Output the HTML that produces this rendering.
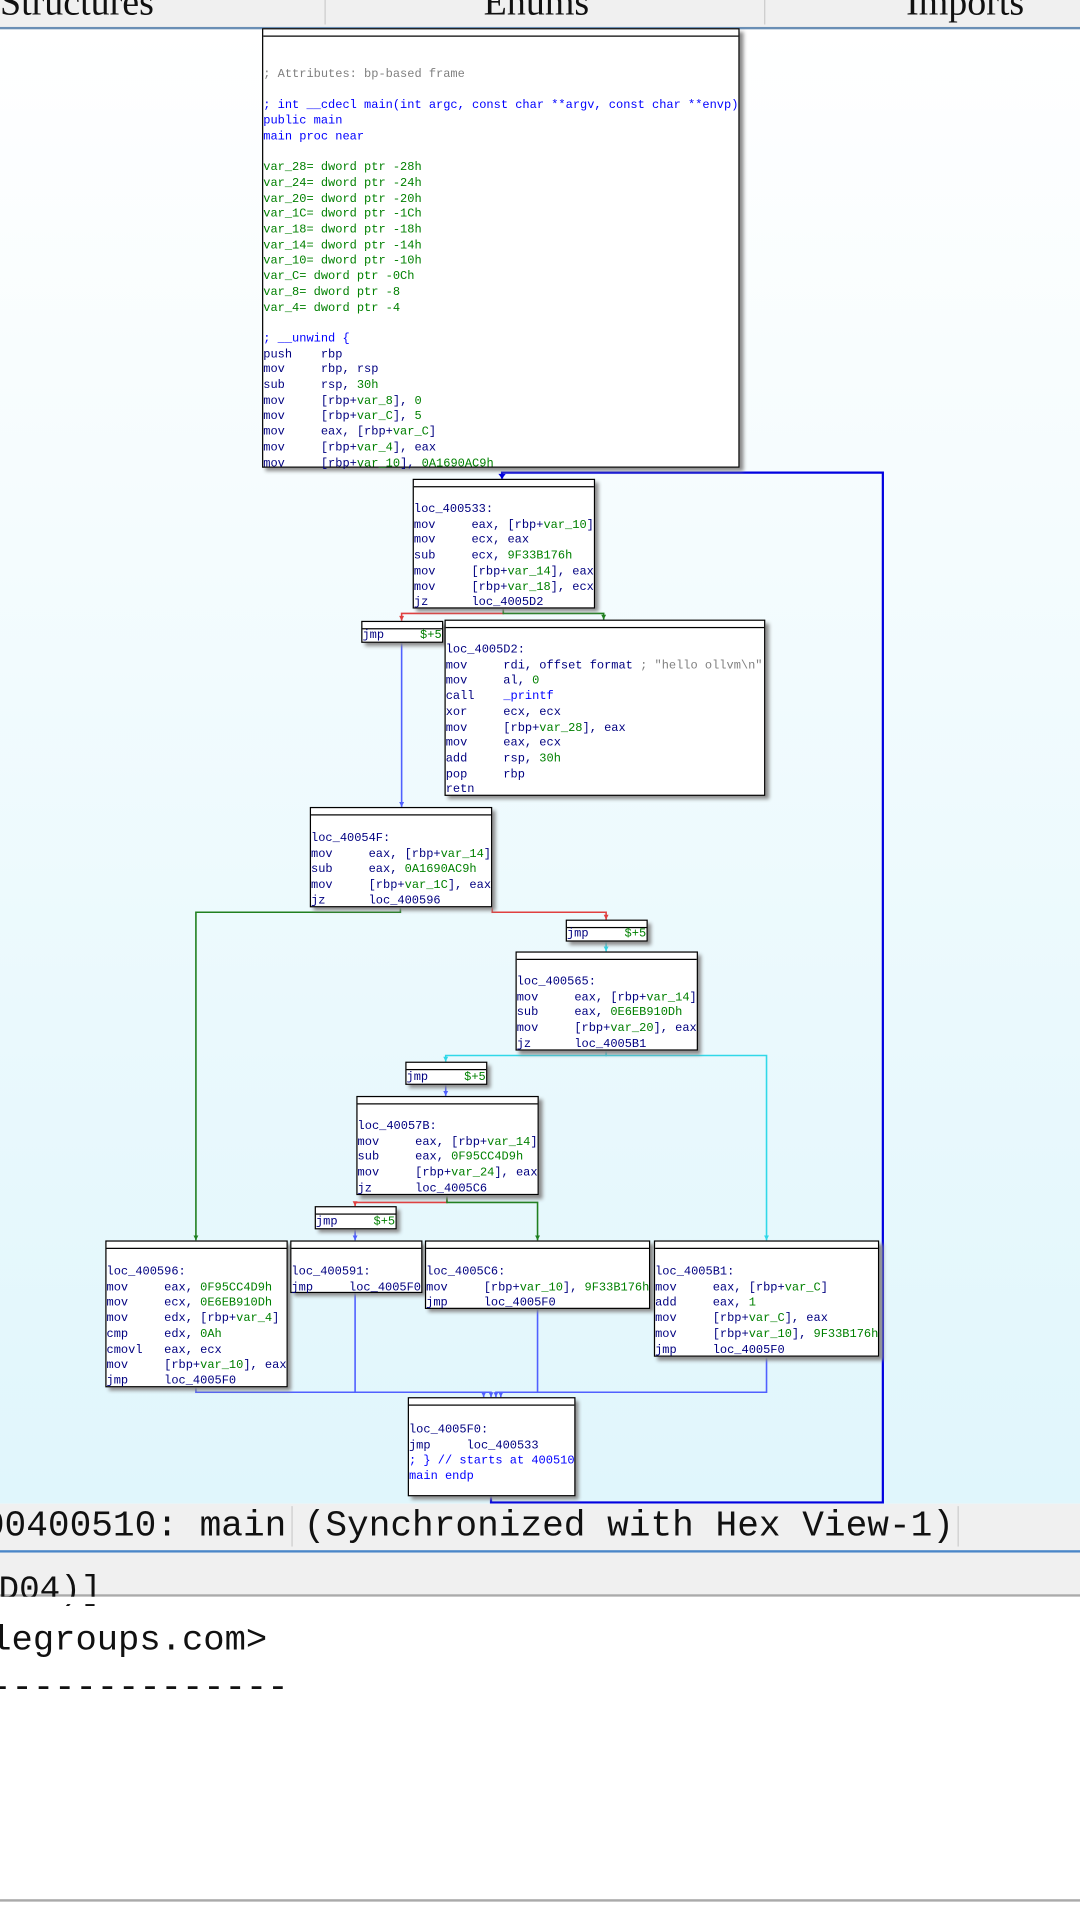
<!DOCTYPE html>
<html><head><meta charset="utf-8"><style>
html,body{margin:0;padding:0;width:1080px;height:1920px;overflow:hidden;background:#fff}
#w{position:absolute;left:0;top:0;width:882px;height:1568px;transform:scale(1.22449);transform-origin:0 0;overflow:hidden}
.tab{position:absolute;top:0;left:0;width:882px;height:22px;background:#f0f0f0;border-bottom:2px solid #6a8fb5;overflow:hidden}
.tt{position:absolute;top:-16px;font:31px "Liberation Serif",serif;color:#111}
#g{position:absolute;left:0;top:24px;width:882px;height:1204px;background:linear-gradient(#fff,#e0f6fc)}
.n{position:absolute;background:#fff;border:1px solid #000;box-shadow:3px 3px 3px #8a8a8a;box-sizing:border-box}
.n:before{content:"";position:absolute;left:0;right:0;top:5px;border-top:1px solid #000}
.t{position:absolute;left:0;white-space:pre;font:9.8px/12.7px "Liberation Mono",monospace;color:#000080}
.g{color:#008000}.b{color:#0000ff}.gr{color:#808080}
svg{position:absolute;left:0;top:0}
.sb{position:absolute;left:0;top:1228px;width:882px;height:38px;background:#f0f0f0;border-bottom:2px solid #4a86c8}
.sbt{position:absolute;top:1px;left:-14px;white-space:pre;font:29.5px "Liberation Mono",monospace;color:#111}
.bt{position:absolute;white-space:pre;font:28px "Liberation Mono",monospace;color:#111}
</style></head><body><div id="w">
<div class="tab">
<div class="tt" style="left:0">Structures</div>
<div class="tt" style="left:395px">Enums</div>
<div class="tt" style="left:740px">Imports</div>
<div style="position:absolute;left:265px;top:0;height:20px;border-left:1px solid #ccc"></div>
<div style="position:absolute;left:624px;top:0;height:20px;border-left:1px solid #ccc"></div>
</div>
<div id="g"></div>
<svg width="882" height="1568" fill="none" stroke-width="1.3">
<g stroke="#0000e0" stroke-width="1.8"><polyline points="401,1222 401,1227 721,1227 721,386 410,386 410,391"/></g>
<g stroke="#e04040"><polyline points="411,497 411,501 328,501 328,507"/><polyline points="402,741 402,745 495,745 495,751"/><polyline points="365,976 365,982 290,982 290,985"/></g>
<g stroke="#208020"><polyline points="411,497 411,501 493,501 493,506"/><polyline points="327,741 327,745 160,745 160,1013"/><polyline points="365,976 365,982 439,982 439,1013"/></g>
<g stroke="#30d8e8"><polyline points="495,769 495,777"/><polyline points="495,858 495,862 626,862 626,1013"/><polyline points="495,858 495,862 364,862 364,867"/></g>
<g stroke="#5060ff"><polyline points="328,524 328,659"/><polyline points="364,886 364,895"/><polyline points="290,1004 290,1013"/>
<polyline points="160,1133 160,1137 395,1137 395,1141"/><polyline points="290,1056 290,1137 401,1137 401,1141"/><polyline points="439,1069 439,1137 405,1137 405,1141"/><polyline points="626,1108 626,1137 409,1137 409,1141"/></g>
<g stroke="none">
<path fill="#0000e0" d="M407,387 413,387 410,391z"/>
<path fill="#e04040" d="M326,503 330,503 328,507z M493,747 497,747 495,751z M288,981 292,981 290,985z"/>
<path fill="#208020" d="M491,502 495,502 493,506z M158,1009 162,1009 160,1013z M437,1009 441,1009 439,1013z"/>
<path fill="#30d8e8" d="M493,773 497,773 495,777z M624,1009 628,1009 626,1013z M362,863 366,863 364,867z"/>
<path fill="#5060ff" d="M326,655 330,655 328,659z M362,891 366,891 364,895z M288,1009 292,1009 290,1013z M393,1137 397,1137 395,1141z M399,1137 403,1137 401,1141z M403,1137 407,1137 405,1141z M407,1137 411,1137 409,1141z"/>
</g>
</svg>
<div class="n" style="left:214px;top:23px;width:390px;height:359px"><div class="t" style="top:31px"><span class="gr">; Attributes: bp-based frame</span>

<span class="b">; int __cdecl main(int argc, const char **argv, const char **envp)</span>
<span class="b">public main</span>
<span class="b">main proc near</span>

<span class="g">var_28= dword ptr -28h</span>
<span class="g">var_24= dword ptr -24h</span>
<span class="g">var_20= dword ptr -20h</span>
<span class="g">var_1C= dword ptr -1Ch</span>
<span class="g">var_18= dword ptr -18h</span>
<span class="g">var_14= dword ptr -14h</span>
<span class="g">var_10= dword ptr -10h</span>
<span class="g">var_C= dword ptr -0Ch</span>
<span class="g">var_8= dword ptr -8</span>
<span class="g">var_4= dword ptr -4</span>

<span class="b">; __unwind {</span>
push    rbp
mov     rbp, rsp
sub     rsp, <span class="g">30h</span>
mov     [rbp+<span class="g">var_8</span>], <span class="g">0</span>
mov     [rbp+<span class="g">var_C</span>], <span class="g">5</span>
mov     eax, [rbp+<span class="g">var_C</span>]
mov     [rbp+<span class="g">var_4</span>], eax
mov     [rbp+<span class="g">var_10</span>], <span class="g">0A1690AC9h</span></div></div>
<div class="n" style="left:337px;top:391px;width:149px;height:106px"><div class="t" style="top:18px">loc_400533:
mov     eax, [rbp+<span class="g">var_10</span>]
mov     ecx, eax
sub     ecx, <span class="g">9F33B176h</span>
mov     [rbp+<span class="g">var_14</span>], eax
mov     [rbp+<span class="g">var_18</span>], ecx
jz      loc_4005D2</div></div>
<div class="n" style="left:295px;top:507px;width:67px;height:18px"><div class="t" style="top:5px">jmp     <span class="g">$+5</span></div></div>
<div class="n" style="left:363px;top:506px;width:262px;height:144px"><div class="t" style="top:18px">loc_4005D2:
mov     rdi, offset format <span class="gr">; "hello ollvm\n"</span>
mov     al, <span class="g">0</span>
call    <span class="b">_printf</span>
xor     ecx, ecx
mov     [rbp+<span class="g">var_28</span>], eax
mov     eax, ecx
add     rsp, <span class="g">30h</span>
pop     rbp
retn</div></div>
<div class="n" style="left:253px;top:659px;width:149px;height:82px"><div class="t" style="top:19px">loc_40054F:
mov     eax, [rbp+<span class="g">var_14</span>]
sub     eax, <span class="g">0A1690AC9h</span>
mov     [rbp+<span class="g">var_1C</span>], eax
jz      loc_400596</div></div>
<div class="n" style="left:462px;top:751px;width:67px;height:18px"><div class="t" style="top:5px">jmp     <span class="g">$+5</span></div></div>
<div class="n" style="left:421px;top:777px;width:149px;height:81px"><div class="t" style="top:18px">loc_400565:
mov     eax, [rbp+<span class="g">var_14</span>]
sub     eax, <span class="g">0E6EB910Dh</span>
mov     [rbp+<span class="g">var_20</span>], eax
jz      loc_4005B1</div></div>
<div class="n" style="left:331px;top:867px;width:67px;height:19px"><div class="t" style="top:6px">jmp     <span class="g">$+5</span></div></div>
<div class="n" style="left:291px;top:895px;width:149px;height:81px"><div class="t" style="top:18px">loc_40057B:
mov     eax, [rbp+<span class="g">var_14</span>]
sub     eax, <span class="g">0F95CC4D9h</span>
mov     [rbp+<span class="g">var_24</span>], eax
jz      loc_4005C6</div></div>
<div class="n" style="left:257px;top:985px;width:67px;height:19px"><div class="t" style="top:6px">jmp     <span class="g">$+5</span></div></div>
<div class="n" style="left:86px;top:1013px;width:149px;height:120px"><div class="t" style="top:19px">loc_400596:
mov     eax, <span class="g">0F95CC4D9h</span>
mov     ecx, <span class="g">0E6EB910Dh</span>
mov     edx, [rbp+<span class="g">var_4</span>]
cmp     edx, <span class="g">0Ah</span>
cmovl   eax, ecx
mov     [rbp+<span class="g">var_10</span>], eax
jmp     loc_4005F0</div></div>
<div class="n" style="left:237px;top:1013px;width:108px;height:43px"><div class="t" style="top:19px">loc_400591:
jmp     loc_4005F0</div></div>
<div class="n" style="left:347px;top:1013px;width:184px;height:56px"><div class="t" style="top:19px">loc_4005C6:
mov     [rbp+<span class="g">var_10</span>], <span class="g">9F33B176h</span>
jmp     loc_4005F0</div></div>
<div class="n" style="left:534px;top:1013px;width:184px;height:95px"><div class="t" style="top:19px">loc_4005B1:
mov     eax, [rbp+<span class="g">var_C</span>]
add     eax, <span class="g">1</span>
mov     [rbp+<span class="g">var_C</span>], eax
mov     [rbp+<span class="g">var_10</span>], <span class="g">9F33B176h</span>
jmp     loc_4005F0</div></div>
<div class="n" style="left:333px;top:1141px;width:137px;height:81px"><div class="t" style="top:20px">loc_4005F0:
jmp     loc_400533
<span class="b">; } // starts at 400510</span>
<span class="b">main endp</span></div></div>
<div class="sb"><div class="sbt">00400510: main</div><div class="sbt" style="left:248px">(Synchronized with Hex View-1)</div>
<div style="position:absolute;left:238px;top:2px;height:33px;border-left:1px solid #ccc"></div>
<div style="position:absolute;left:782px;top:2px;height:33px;border-left:1px solid #ccc"></div></div>
<div style="position:absolute;left:0;top:1268px;width:882px;height:34px;background:#f0f0f0;border-bottom:2px solid #aaa"></div>
<div class="bt" style="left:-18px;top:1284px">mD04)]</div>
<div style="position:absolute;left:0;top:1304px;width:882px;height:6px;background:#fff"></div>
<div class="bt" style="left:-8px;top:1323px;font-size:29px">legroups.com&gt;</div>
<div class="bt" style="left:-8px;top:1362px;font-size:29px">--------------</div>
<div style="position:absolute;left:0;top:1551px;width:882px;border-top:2px solid #aaa"></div>
</div></body></html>
